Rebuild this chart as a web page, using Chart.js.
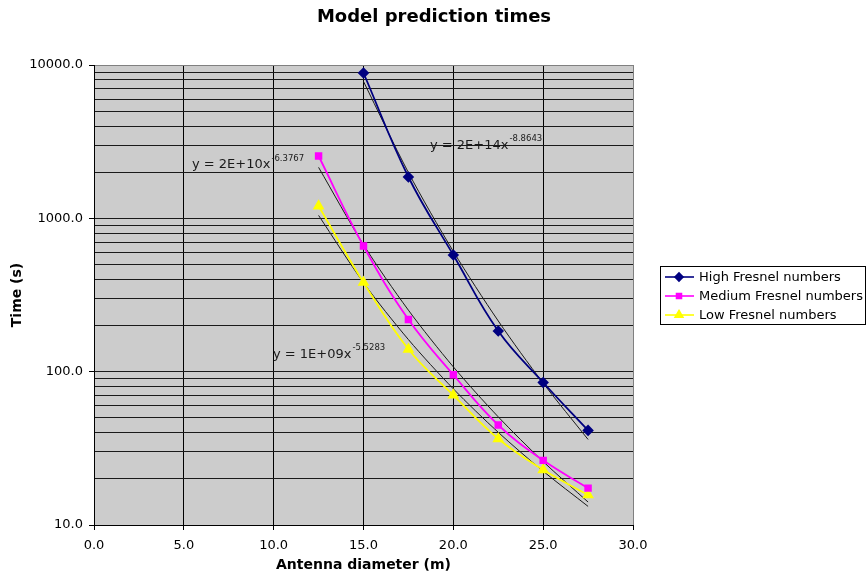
<!DOCTYPE html>
<html lang="en">
<head>
<meta charset="UTF-8">
<title>Model prediction times</title>
<script src="https://cdn.jsdelivr.net/npm/chart.js"></script>
<style>
    body { margin: 0; background: #ffffff; }
    #wrap { width: 868px; height: 578px; }
</style>
</head>
<body>
<div id="wrap"><canvas id="chart" width="868" height="578"></canvas></div>
<script>
// antenna diameter (m)
const diameters = [12.5, 15, 17.5, 20, 22.5, 25, 27.5];

// prediction times (s); null = no point
const highFresnel   = [null, 8870, 1860, 576, 184, 85, 41.4];
const mediumFresnel = [2550, 660, 219, 95.5, 44.9, 26.4, 17.4];
const lowFresnel    = [1203, 382, 140, 70.3, 36.5, 22.9, 15.7];

const seriesNames = ['High Fresnel numbers', 'Medium Fresnel numbers', 'Low Fresnel numbers'];

// trendline equations as printed on the chart
const trendLabels = [
    { base: 'y = 2E+14x', exp: '-8.8643' },
    { base: 'y = 2E+10x', exp: '-6.3767' },
    { base: 'y = 1E+09x', exp: '-5.5283' }
];
// where each equation sits, in data units (x, y)
const trendLabelPos = [[18.7, 3000], [5.45, 2230], [9.96, 130]];

const xTicks = [0, 5, 10, 15, 20, 25, 30];
const yTicks = [10, 20, 30, 40, 50, 60, 70, 80, 90,
                100, 200, 300, 400, 500, 600, 700, 800, 900,
                1000, 2000, 3000, 4000, 5000, 6000, 7000, 8000, 9000, 10000];

const FONT = "'DejaVu Sans', Verdana, sans-serif";
const colors = ['#000080', '#ff00ff', '#ffff00'];
const markers = ['rectRot', 'rect', 'triangle'];
const markerSize = [4.5, 4, 5];

function isDecade(v) {
    const l = Math.log10(v);
    return Math.abs(l - Math.round(l)) < 1e-9;
}

// power trendline (least squares on ln y vs ln x), like the spreadsheet does
function powerFit(xs, ys) {
    const pts = [];
    xs.forEach((x, i) => { if (ys[i] != null) pts.push([Math.log(x), Math.log(ys[i])]); });
    const n = pts.length;
    let sx = 0, sy = 0, sxx = 0, sxy = 0;
    pts.forEach(p => { sx += p[0]; sy += p[1]; sxx += p[0] * p[0]; sxy += p[0] * p[1]; });
    const b = (n * sxy - sx * sy) / (n * sxx - sx * sx);
    const a = Math.exp((sy - b * sx) / n);
    return xs.map((x, i) => ys[i] == null ? null : { x: x, y: a * Math.pow(x, b) });
}

const allSeries = [highFresnel, mediumFresnel, lowFresnel];

const datasets = [];
allSeries.forEach((vals, i) => {
    datasets.push({
        label: seriesNames[i],
        data: diameters.map((x, j) => vals[j] == null ? null : { x: x, y: vals[j] }).filter(p => p),
        borderColor: colors[i],
        backgroundColor: colors[i],
        borderWidth: 1.8,
        pointStyle: markers[i],
        pointRadius: markerSize[i],
        pointHoverRadius: markerSize[i],
        tension: 0.4,
        order: 1
    });
});
allSeries.forEach((vals, i) => {
    datasets.push({
        label: 'trend ' + i,
        data: powerFit(diameters, vals).filter(p => p),
        borderColor: '#1a1a1a',
        borderWidth: 1,
        pointRadius: 0,
        tension: 0.3,
        order: 2
    });
});

const plotBackground = {
    id: 'plotBackground',
    afterLayout(chart) {
        // centre the title over the whole picture, not just the plot
        if (chart.titleBlock) {
            chart.titleBlock.left = 0;
            chart.titleBlock.right = chart.width;
            chart.titleBlock.width = chart.width;
        }
    },
    beforeDraw(chart) {
        const { ctx, chartArea: a } = chart;
        ctx.save();
        ctx.fillStyle = '#cccccc';
        ctx.fillRect(a.left, a.top, a.right - a.left, a.bottom - a.top);
        ctx.restore();
    }
};

const equations = {
    id: 'equations',
    afterDatasetsDraw(chart) {
        const { ctx, scales: { x, y } } = chart;
        ctx.save();
        ctx.fillStyle = '#1a1a1a';
        ctx.textBaseline = 'middle';
        trendLabels.forEach((t, i) => {
            const px = x.getPixelForValue(trendLabelPos[i][0]);
            const py = y.getPixelForValue(trendLabelPos[i][1]);
            ctx.font = '13px ' + FONT;
            ctx.fillText(t.base, px, py);
            const w = ctx.measureText(t.base).width;
            ctx.font = '8.5px ' + FONT;
            ctx.fillText(t.exp, px + w + 1, py - 6);
        });
        ctx.restore();
    }
};

const boxLegend = {
    id: 'boxLegend',
    afterDraw(chart) {
        const { ctx, chartArea: a } = chart;
        const left = a.right + 27, top = a.top + 201, w = 205, rowH = 19;
        ctx.save();
        ctx.strokeStyle = '#000000';
        ctx.lineWidth = 1;
        ctx.strokeRect(left + 0.5, top + 0.5, w, rowH * 3 + 1);
        ctx.font = '13px ' + FONT;
        ctx.textBaseline = 'middle';
        seriesNames.forEach((name, i) => {
            const cy = top + 11 + i * rowH;
            ctx.strokeStyle = colors[i];
            ctx.lineWidth = 1.6;
            ctx.beginPath();
            ctx.moveTo(left + 5, cy);
            ctx.lineTo(left + 34, cy);
            ctx.stroke();
            Chart.helpers.drawPoint(ctx, {
                pointStyle: markers[i], radius: markerSize[i] - 0.5,
                borderWidth: 1, rotation: 0
            }, left + 19, cy);
            ctx.fillStyle = colors[i];
            ctx.fill();
            ctx.fillStyle = '#000000';
            ctx.fillText(name, left + 39, cy + 1);
        });
        ctx.restore();
    }
};

new Chart(document.getElementById('chart'), {
    type: 'line',
    data: { datasets: datasets },
    plugins: [plotBackground, equations, boxLegend],
    options: {
        responsive: false,
        animation: false,
        spanGaps: true,
        layout: { padding: { left: 0, right: 235, top: 0, bottom: 0 } },
        plugins: {
            legend: { display: false },
            tooltip: { enabled: false },
            title: {
                display: true,
                text: 'Model prediction times',
                color: '#000000',
                font: { family: FONT, size: 18, weight: 'bold', lineHeight: 1.2 },
                padding: { top: 7, bottom: 36.4 }
            }
        },
        scales: {
            x: {
                type: 'linear',
                min: 0,
                max: 30,
                afterFit(s) { s.height = 53; },
                afterBuildTicks(s) { s.ticks = xTicks.map(v => ({ value: v })); },
                ticks: {
                    color: '#000000',
                    font: { family: FONT, size: 13 },
                    padding: 8,
                    maxRotation: 0,
                    autoSkip: false,
                    callback: v => Number(v).toFixed(1)
                },
                grid: {
                    color: c => c.tick && c.tick.value === 30 ? '#808080' : '#000000',
                    lineWidth: 1,
                    tickLength: 5,
                    tickColor: '#000000'
                },
                border: { color: '#000000', width: 1 },
                title: {
                    display: true,
                    text: 'Antenna diameter (m)',
                    color: '#000000',
                    font: { family: FONT, size: 14, weight: 'bold', lineHeight: 1.2 },
                    padding: { top: 0, bottom: 4 }
                }
            },
            y: {
                type: 'logarithmic',
                min: 10,
                max: 10000,
                afterFit(s) { s.width = 94; },
                afterBuildTicks(s) { s.ticks = yTicks.map(v => ({ value: v, major: isDecade(v) })); },
                ticks: {
                    color: '#000000',
                    font: { family: FONT, size: 13 },
                    padding: 6,
                    autoSkip: false,
                    callback: v => isDecade(v) ? Number(v).toFixed(1) : ''
                },
                grid: {
                    color: c => c.tick && c.tick.value === 10000 ? '#808080' : '#1a1a1a',
                    lineWidth: 1,
                    tickLength: 5,
                    tickColor: c => c.tick && isDecade(c.tick.value) ? '#000000' : 'rgba(0,0,0,0)'
                },
                border: { color: '#000000', width: 1 },
                title: {
                    display: true,
                    text: 'Time (s)',
                    color: '#000000',
                    font: { family: FONT, size: 14, weight: 'bold', lineHeight: 1.2 },
                    padding: { top: 8.6, bottom: 0 }
                }
            }
        }
    }
});
</script>
</body>
</html>
